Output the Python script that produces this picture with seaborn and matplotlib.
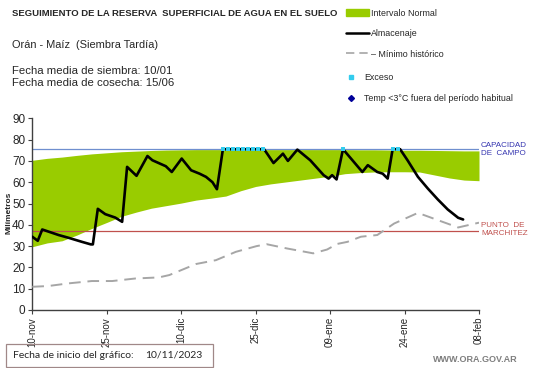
import matplotlib
matplotlib.use('Agg')
import matplotlib.pyplot as plt
from matplotlib.lines import Line2D
from matplotlib.patches import Patch, Rectangle
import seaborn as sns

# dias desde el 10-nov
TICK_DIAS = [0, 15, 30, 45, 60, 75, 90]
TICK_LABELS = ['10-nov', '25-nov', '10-dic', '25-dic', '09-ene', '24-ene', '08-feb']

CAPACIDAD = 75.5
MARCHITEZ = 37.3

banda_dias = [0, 3, 6, 9, 12, 15, 18, 21, 24, 27, 30, 33, 36, 39, 42, 45,
              48, 51, 54, 57, 60, 63, 66, 69, 72, 75, 78, 81, 84, 87, 90]
banda_sup = [70.3, 71.2, 71.8, 72.6, 73.3, 73.8, 74.3, 74.6, 74.9, 75.1, 75.2,
             75.3, 75.3, 75.3, 75.3, 75.3, 75.3, 75.3, 75.3, 75.3, 75.3, 75.3,
             75.2, 75.2, 75.1, 75.0, 75.0, 74.9, 74.8, 74.7, 74.7]
banda_inf = [29.7, 31.5, 32.5, 35.2, 38.3, 41.1, 44.0, 46.0, 47.8, 49.0, 50.2,
             51.6, 52.5, 53.5, 56.0, 58.0, 59.2, 60.1, 61.0, 61.9, 62.8, 64.0,
             64.5, 64.8, 64.9, 64.9, 64.8, 63.4, 62.0, 61.0, 60.7]

alm_dias = [0, 1.1, 2.0, 5.3, 7.3, 10.0, 11.8, 12.2, 13.2, 14.7, 16.7, 18.1,
            19.1, 21.0, 23.2, 24.2, 26.9, 28.1, 30.1, 32.0, 33.7, 35.0, 36.3,
            37.2, 38.4, 46.7, 48.6, 50.5, 51.5, 53.4, 56.0, 58.7, 59.7, 60.4,
            61.3, 62.6, 64.5, 66.5, 67.6, 69.5, 70.6, 71.6, 72.6, 74.1, 75.6,
            77.7, 79.7, 81.7, 83.7, 85.8, 86.8]
alm_mm = [34.4, 32.5, 37.8, 35.2, 33.9, 32.0, 30.8, 30.8, 47.5, 45.0, 43.4, 41.4,
          67.2, 63.0, 72.3, 70.3, 67.5, 64.8, 71.1, 65.6, 64.0, 62.5, 60.0,
          56.7, 75.5, 75.5, 69.0, 73.4, 70.0, 75.3, 70.3, 63.3, 61.7, 63.3,
          61.3, 75.5, 70.3, 64.8, 68.0, 64.8, 64.0, 61.7, 75.5, 75.5, 70.3,
          62.5, 57.0, 51.9, 47.2, 43.3, 42.5]

exc_dias = [38.4, 39.4, 40.4, 41.4, 42.4, 43.4, 44.4, 45.4, 46.4, 62.6, 72.6, 73.6]
exc_mm = [75.5] * len(exc_dias)

min_dias = [0, 3.2, 7.3, 12, 16.1, 20.8, 25.5, 27.6, 30.3, 33, 37, 41, 45.2,
            47.2, 51.3, 56.6, 59.4, 61.4, 63.5, 66.2, 69.5, 72.9, 77.7, 81.7,
            85.8, 90]
min_mm = [10.9, 11.25, 12.5, 13.6, 13.6, 14.8, 15.3, 16.4, 19.0, 21.6, 23.4,
          27.3, 30.0, 30.9, 28.9, 26.6, 28.4, 31.0, 32.0, 34.4, 35.2, 40.6,
          45.6, 42.2, 38.75, 41.0]

VERDE = '#99cc00'
GRIS = '#a6a6a6'

sns.set_style('white')
plt.rcParams['font.family'] = ['Liberation Sans', 'DejaVu Sans']

W, H = 541, 368
fig = plt.figure(figsize=(W / 100, H / 100), dpi=100)
ax = fig.add_axes([32.3 / W, 1 - 310 / H, (479 - 32.3) / W, (310 - 118.3) / H])

ax.fill_between(banda_dias, banda_inf, banda_sup, color=VERDE, lw=0, zorder=1)
ax.axhline(CAPACIDAD, color='#6f8fcf', lw=0.9, zorder=2)
ax.axhline(MARCHITEZ, color='#c0504d', lw=0.9, zorder=2)

sns.lineplot(x=min_dias, y=min_mm, color=GRIS, lw=1.4, dashes=(6, 3.5),
             ax=ax, zorder=3)
sns.lineplot(x=alm_dias, y=alm_mm, color='black', lw=1.9, ax=ax, zorder=4)
sns.scatterplot(x=exc_dias, y=exc_mm, color='#33ccee', s=5, marker='s',
                linewidth=0, ax=ax, zorder=5)

ax.set_xlim(0, 90)
ax.set_ylim(0, 90)
ax.set_xticks(TICK_DIAS)
ax.set_xticklabels(TICK_LABELS, rotation=90, fontsize=7)
ax.set_yticks(range(0, 91, 10))
ax.tick_params(axis='y', labelsize=8.5, length=3, width=0.8, color='#404040', pad=2, left=True)
ax.tick_params(axis='x', length=3, width=0.8, color='#404040', pad=2, bottom=True)
for s in ['top', 'right']:
    ax.spines[s].set_visible(False)
for s in ['left', 'bottom']:
    ax.spines[s].set_color('#404040')
    ax.spines[s].set_linewidth(1.0)
ax.set_xlabel('')
ax.set_ylabel('')

ax.text(90.4, 75.2, 'CAPACIDAD\nDE  CAMPO', color='#3535b0', fontsize=5.8,
        va='center', ha='left', linespacing=1.2, clip_on=False)
ax.text(90.4, 37.6, 'PUNTO  DE\nMARCHITEZ', color='#c0504d', fontsize=5.8,
        va='center', ha='left', linespacing=1.2, clip_on=False)

fig.text(9 / W, 1 - 213 / H, 'Milímetros', rotation=90, fontsize=6,
         fontweight='bold', ha='center', va='center')

fig.text(12 / W, 1 - 14 / H, 'SEGUIMIENTO DE LA RESERVA  SUPERFICIAL DE AGUA EN EL SUELO',
         fontsize=6.8, fontweight='bold', va='center')
fig.text(12 / W, 1 - 45 / H, 'Orán - Maíz  (Siembra Tardía)', fontsize=7.9, va='center')
fig.text(12 / W, 1 - 70.7 / H, 'Fecha media de siembra: 10/01', fontsize=8.2, va='center')
fig.text(12 / W, 1 - 82.7 / H, 'Fecha media de cosecha: 15/06', fontsize=8.2, va='center')

h1 = [Patch(color=VERDE),
      Line2D([], [], color='black', lw=1.8),
      Line2D([], [], color=GRIS, lw=1.2, dashes=(5, 3))]
fig.legend(h1, ['Intervalo Normal', 'Almacenaje', '– Mínimo histórico'],
           loc='upper left', bbox_to_anchor=(346 / W, 1 - 8.5 / H), frameon=False,
           fontsize=6.4, labelspacing=1.3, handlelength=2.6, handletextpad=0.2,
           borderpad=0, borderaxespad=0)
h2 = [Line2D([], [], ls='', marker='s', ms=2.5, color='#33ccee'),
      Line2D([], [], ls='', marker='D', ms=3, color='#000099')]
fig.legend(h2, ['Exceso', 'Temp <3°C fuera del período habitual'],
           loc='upper left', bbox_to_anchor=(347 / W, 1 - 73.5 / H), frameon=False,
           fontsize=6.4, labelspacing=1.3, handlelength=1.0, handletextpad=0.9,
           borderpad=0, borderaxespad=0)

fig.add_artist(Rectangle((6 / W, 1 - 367 / H), 207 / W, 23 / H, transform=fig.transFigure,
                         fill=False, ec='#a08888', lw=0.9))
fig.text(13 / W, 1 - 355.5 / H, 'Fecha de inicio del gráfico:', fontsize=7.5,
         family=['Lato', 'DejaVu Sans'], va='center')
fig.text(145 / W, 1 - 355.5 / H, '10/11/2023', fontsize=7.5,
         family=['Lato', 'DejaVu Sans'], va='center')

fig.text(518 / W, 1 - 360 / H, 'WWW.ORA.GOV.AR', fontsize=6.5, fontweight='bold',
         color='#7f7f7f', ha='right', va='center')

fig.savefig('out.png', dpi=100)
